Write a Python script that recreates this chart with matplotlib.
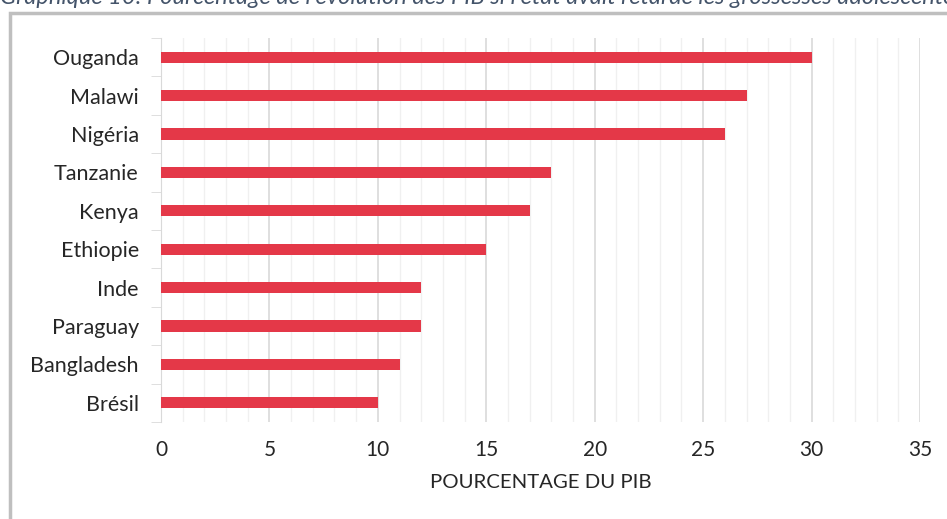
import numpy as np
import matplotlib
matplotlib.use("Agg")
import matplotlib.pyplot as plt
from matplotlib.patches import Rectangle
from matplotlib.ticker import MultipleLocator

pays = ["Ouganda", "Malawi", "Nigéria", "Tanzanie", "Kenya",
        "Ethiopie", "Inde", "Paraguay", "Bangladesh", "Brésil"]
valeurs = [30, 27, 26, 18, 17, 15, 12, 12, 11, 10]
titre = ("Graphique 10: Pourcentage de l'évolution des PIB si l'état "
         "avait retardé les grossesses adolescentes")
xlabel = "POURCENTAGE DU PIB"

plt.rcParams['font.family'] = ['Lato', 'DejaVu Sans']

fig = plt.figure(figsize=(9.47, 5.19), dpi=100)
ax = fig.add_axes([0.170, 0.187, 0.8015, 0.7398])

y = np.arange(len(pays))[::-1]
ax.barh(y, valeurs, height=0.29, color='#E43848', zorder=3)

ax.set_xlim(0, 35)
ax.set_ylim(-0.5, len(pays) - 0.5)
ax.xaxis.set_major_locator(MultipleLocator(5))
ax.xaxis.set_minor_locator(MultipleLocator(1))
ax.grid(axis='x', which='major', color='#D9D9D9', linewidth=1.2, zorder=0)
ax.grid(axis='x', which='minor', color='#F0F0F0', linewidth=1.0, zorder=0)

ax.set_yticks(y)
ax.set_yticklabels(pays, fontsize=15.5, color='#262626')
ax.set_yticks(np.arange(-0.5, len(pays), 1), minor=True)
ax.tick_params(axis='y', which='major', length=0, pad=16)
ax.tick_params(axis='y', which='minor', length=7, color='#D9D9D9')
ax.tick_params(axis='x', which='both', length=0, pad=13, labelsize=15,
               labelcolor='#262626')

for s in ['top', 'right', 'bottom']:
    ax.spines[s].set_visible(False)
ax.spines['left'].set_color('#D9D9D9')

ax.set_xlabel(xlabel, fontsize=14.7, color='#262626', labelpad=10)

# cadre autour du graphique
fig.add_artist(Rectangle((10 / 947, -0.1), 1.2, 1.1 - 13 / 519,
                         transform=fig.transFigure, fill=False,
                         edgecolor='#BFBFBF', linewidth=2.5))

fig.text(0.0, 1 - 4 / 519, titre, fontsize=17, style='italic',
         color='#44546A', ha='left', va='baseline')

fig.savefig("out.png", dpi=100)
